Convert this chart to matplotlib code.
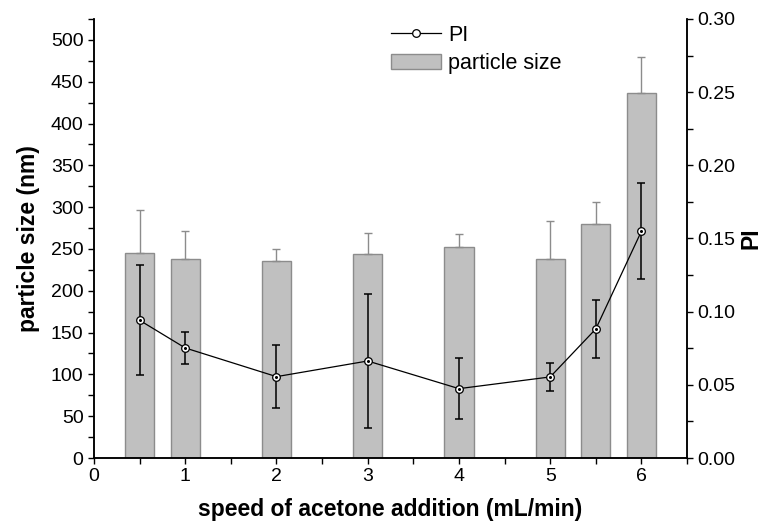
import matplotlib.pyplot as plt
import numpy as np
from matplotlib.ticker import MultipleLocator

plt.rcParams["font.family"] = ["Liberation Sans", "DejaVu Sans"]

# speed of acetone addition (mL/min)
speed = [0.5, 1, 2, 3, 4, 5, 5.5, 6]
# particle size (nm) and upward error
size_nm = [245.6, 238, 235.6, 243.7, 252.7, 237.7, 280.3, 437]
size_err = [50.7, 33.5, 14.4, 25.1, 15.6, 45.3, 25.6, 43]
# polydispersity index and error
pi_val = [0.0941, 0.0752, 0.0556, 0.0663, 0.0474, 0.0554, 0.0882, 0.1550]
pi_err = [0.0377, 0.0110, 0.0217, 0.0458, 0.0208, 0.0098, 0.0200, 0.0328]

fig = plt.figure(figsize=(7.65, 5.29), dpi=100)
ax = fig.add_axes([0.1229, 0.1342, 0.7752, 0.8299])
ax2 = ax.twinx()

bars = ax.bar(speed, size_nm, width=0.32, color="#c0c0c0", edgecolor="#8c8c8c",
              linewidth=1.0, label="particle size", zorder=2)
ax.errorbar(speed, size_nm, yerr=[np.zeros(len(size_err)), size_err], fmt="none",
            ecolor="#8c8c8c", elinewidth=1.0, capsize=3, capthick=1.0, zorder=3)

ax2.errorbar(speed, pi_val, yerr=pi_err, fmt="none", ecolor="black",
             elinewidth=1.1, capsize=3, capthick=1.1, zorder=3)
line, = ax2.plot(speed, pi_val, color="black", lw=0.9, marker="o", ms=5.5,
                 mfc="white", mec="black", mew=0.9, label="PI", zorder=4)
ax2.plot(speed, pi_val, ls="none", marker="o", ms=1.2, color="black", zorder=5)

ax.set_xlim(0, 6.5)
ax.set_ylim(0, 525)
ax2.set_ylim(0, 0.30)

ax.xaxis.set_major_locator(MultipleLocator(1))
ax.xaxis.set_minor_locator(MultipleLocator(0.5))
ax.yaxis.set_major_locator(MultipleLocator(50))
ax.yaxis.set_minor_locator(MultipleLocator(25))
ax2.yaxis.set_major_locator(MultipleLocator(0.05))
ax2.yaxis.set_minor_locator(MultipleLocator(0.025))
ax2.yaxis.set_major_formatter(plt.FormatStrFormatter("%.2f"))

for a in (ax, ax2):
    a.spines["top"].set_visible(False)
    for s in a.spines.values():
        s.set_linewidth(1.1)
    a.tick_params(which="both", direction="out", width=1.0, length=4.5,
                  labelsize=14, pad=3)

ax.set_xlabel("speed of acetone addition (mL/min)", fontsize=16.5,
              fontweight="bold", labelpad=9)
ax.set_ylabel("particle size (nm)", fontsize=16.5, fontweight="bold", labelpad=8)
ax2.set_ylabel("PI", fontsize=16.5, fontweight="bold", labelpad=3)

fig.legend([line, bars], ["PI", "particle size"], loc="upper left",
           bbox_to_anchor=(0.486, 0.99), frameon=False, fontsize=15.5,
           handlelength=2.3, handletextpad=0.35, labelspacing=0.35)

fig.savefig("out.png", dpi=100)
